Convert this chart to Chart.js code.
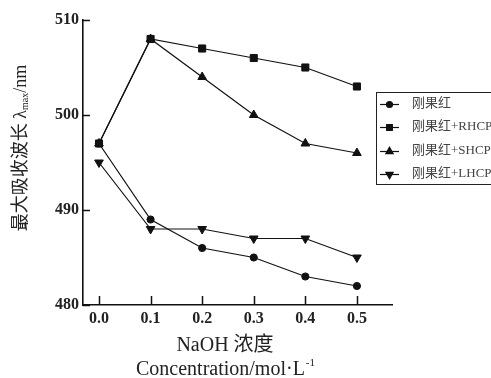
<!DOCTYPE html>
<html>
<head>
<meta charset="utf-8">
<script src="https://cdn.jsdelivr.net/npm/chart.js@4.4.1/dist/chart.umd.min.js"></script>
<style>
html,body{margin:0;padding:0;background:#fff;}
#c{display:block;}
</style>
</head>
<body>
<canvas id="c" width="491" height="378"></canvas>
<script>
const concentrations = [0.0, 0.1, 0.2, 0.3, 0.4, 0.5];
const xTickValues = [0.0, 0.1, 0.2, 0.3, 0.4, 0.5];
const yTickValues = [480, 490, 500, 510];
const seriesNames = ['刚果红', '刚果红+RHCP', '刚果红+SHCP', '刚果红+LHCP'];
const congoRed = [497, 489, 486, 485, 483, 482];
const congoRedRHCP = [497, 508, 507, 506, 505, 503];
const congoRedSHCP = [497, 508, 504, 500, 497, 496];
const congoRedLHCP = [495, 488, 488, 487, 487, 485];

const LATIN = '"Liberation Serif", "Noto Sans CJK SC", serif';
const styles = [
  {pointStyle: 'circle', radius: 3.6, rotation: 0},
  {pointStyle: 'rect', radius: 5, rotation: 0},
  {pointStyle: 'triangle', radius: 5, rotation: 0},
  {pointStyle: 'triangle', radius: 5, rotation: 180}
];
const allSeries = [congoRed, congoRedRHCP, congoRedSHCP, congoRedLHCP];

const datasets = allSeries.map((vals, i) => ({
  label: seriesNames[i],
  data: concentrations.map((x, j) => ({x: x, y: vals[j]})),
  borderColor: '#111',
  backgroundColor: '#111',
  borderWidth: 1.2,
  pointStyle: styles[i].pointStyle,
  pointRadius: styles[i].radius,
  pointRotation: styles[i].rotation,
  pointBorderWidth: 1,
  pointBackgroundColor: '#111',
  pointBorderColor: '#111',
  tension: 0,
  clip: false
}));

const customDraw = {
  id: 'customDraw',
  afterDraw(chart) {
    const ctx = chart.ctx;
    const xs = chart.scales.x, ys = chart.scales.y;
    const area = chart.chartArea;
    ctx.save();
    // inner ticks
    ctx.strokeStyle = '#111';
    ctx.lineWidth = 1.5;
    xTickValues.forEach(v => {
      const px = Math.round(xs.getPixelForValue(v)) + 0.5;
      ctx.beginPath();
      ctx.moveTo(px, area.bottom);
      ctx.lineTo(px, area.bottom - 9);
      ctx.stroke();
    });
    yTickValues.forEach(v => {
      const py = Math.round(ys.getPixelForValue(v)) + 0.5;
      ctx.beginPath();
      ctx.moveTo(area.left, py);
      ctx.lineTo(area.left + 7, py);
      ctx.stroke();
    });

    // Y title (rotated) with subscript
    ctx.fillStyle = '#222';
    ctx.textBaseline = 'middle';
    ctx.textAlign = 'left';
    const mainFont = '18px ' + LATIN;
    const subFont = '10px ' + LATIN;
    const p1 = '最大吸收波长 λ', p2 = 'max', p3 = '/nm';
    ctx.font = mainFont;
    const w1 = ctx.measureText(p1).width, w3 = ctx.measureText(p3).width;
    ctx.font = subFont;
    const w2 = ctx.measureText(p2).width;
    const total = w1 + w2 + w3;
    ctx.save();
    ctx.translate(21, 148);
    ctx.rotate(-Math.PI / 2);
    let x0 = -total / 2;
    ctx.font = mainFont;
    ctx.fillText(p1, x0, 0);
    ctx.font = subFont;
    ctx.fillText(p2, x0 + w1, 4);
    ctx.font = mainFont;
    ctx.fillText(p3, x0 + w1 + w2, 0);
    ctx.restore();

    // X title, two lines
    ctx.textAlign = 'center';
    ctx.font = '20px ' + LATIN;
    ctx.fillText('NaOH 浓度', 225, 346);
    const l1 = 'Concentration/mol·L', sup = '-1';
    ctx.font = '20px ' + LATIN;
    const lw1 = ctx.measureText(l1).width;
    ctx.font = '11px ' + LATIN;
    const lw2 = ctx.measureText(sup).width;
    const start = 225 - (lw1 + lw2) / 2;
    ctx.textAlign = 'left';
    ctx.font = '20px ' + LATIN;
    ctx.fillText(l1, start, 370);
    ctx.font = '11px ' + LATIN;
    ctx.fillText(sup, start + lw1 + 1, 363);

    // Legend box
    ctx.strokeStyle = '#222';
    ctx.lineWidth = 1;
    ctx.strokeRect(376.5, 92.5, 140, 92);
    const rowY = [104, 127, 151, 174];
    const legendMarker = [
      {pointStyle: 'circle', radius: 3, rotation: 0, borderWidth: 1},
      {pointStyle: 'rect', radius: 4, rotation: 0, borderWidth: 1},
      {pointStyle: 'triangle', radius: 4.2, rotation: 0, borderWidth: 1},
      {pointStyle: 'triangle', radius: 4.2, rotation: 180, borderWidth: 1}
    ];
    seriesNames.forEach((name, i) => {
      const y = rowY[i];
      ctx.strokeStyle = '#111';
      ctx.lineWidth = 1.2;
      ctx.beginPath();
      ctx.moveTo(380, y + 0.5);
      ctx.lineTo(399, y + 0.5);
      ctx.stroke();
      ctx.fillStyle = '#111';
      Chart.helpers.drawPoint(ctx, legendMarker[i], 389.5, y + 0.5);
      ctx.fillStyle = '#444';
      ctx.font = '13px ' + LATIN;
      ctx.textAlign = 'left';
      ctx.textBaseline = 'middle';
      ctx.fillText(name, 412, y);
    });
    ctx.restore();
  }
};

new Chart(document.getElementById('c'), {
  type: 'line',
  data: {datasets: datasets},
  options: {
    responsive: false,
    animation: false,
    devicePixelRatio: 1,
    layout: {padding: {top: 20, right: 99, left: 0, bottom: 0}},
    plugins: {legend: {display: false}, tooltip: {enabled: false}, title: {display: false}},
    scales: {
      x: {
        type: 'linear',
        min: -0.031,
        max: 0.568,
        afterBuildTicks: (s) => { s.ticks = xTickValues.map(v => ({value: v})); },
        afterFit: (s) => { s.height = 73; },
        grid: {display: false, drawTicks: false},
        border: {display: true, color: '#111', width: 1.6},
        ticks: {
          color: '#222',
          padding: 4,
          font: {family: LATIN, size: 16, weight: 'bold'},
          callback: (v) => Number(v).toFixed(1),
          maxRotation: 0
        }
      },
      y: {
        type: 'linear',
        min: 480,
        max: 510,
        afterBuildTicks: (s) => { s.ticks = yTickValues.map(v => ({value: v})); },
        afterFit: (s) => { s.width = 83; },
        grid: {display: false, drawTicks: false},
        border: {display: true, color: '#111', width: 1.6},
        ticks: {
          color: '#222',
          padding: 4,
          font: {family: LATIN, size: 16, weight: 'bold'},
          callback: (v) => String(v)
        }
      }
    }
  },
  plugins: [customDraw]
});
</script>
</body>
</html>
